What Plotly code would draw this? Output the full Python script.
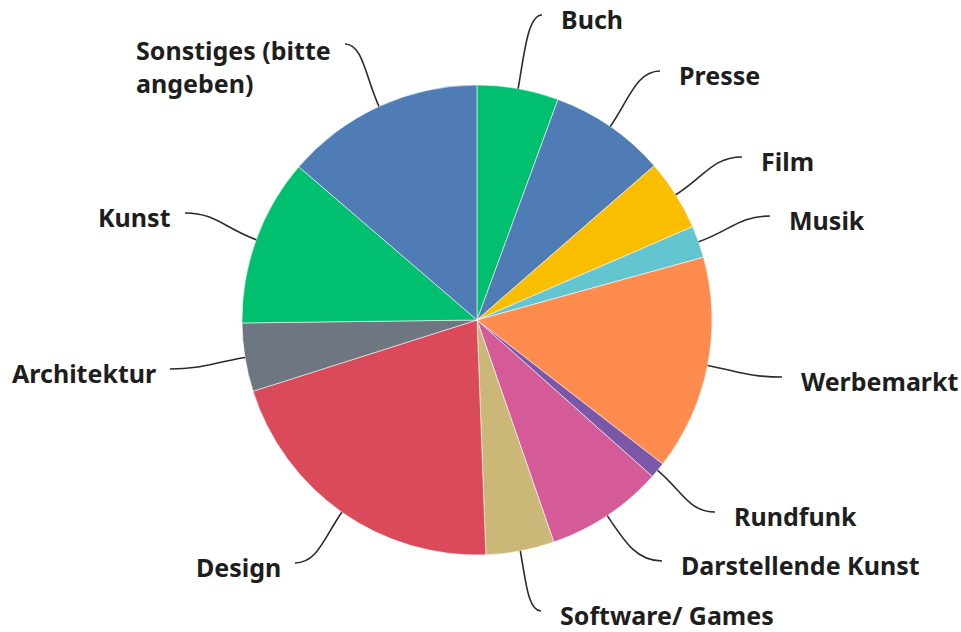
import math
import plotly.graph_objects as go

W, H = 961, 632

# Share of respondents per sector (percent), clockwise from 12 o'clock
categories = [
    "Buch", "Presse", "Film", "Musik", "Werbemarkt", "Rundfunk",
    "Darstellende Kunst", "Software/ Games", "Design", "Architektur",
    "Kunst", "Sonstiges (bitte<br>angeben)",
]
values = [5.6, 8.0, 4.9, 2.2, 14.8, 1.1, 8.1, 4.7, 20.7, 4.7, 11.5, 13.7]

colors = [
    "#00BF6F", "#507CB6", "#F9BE00", "#62C5CF", "#FF8B4F", "#7B57A8",
    "#D45A98", "#CBB878", "#DB4A5B", "#6E7781", "#00BF6F", "#507CB6",
]

# Pie placement in pixels (centre and radius)
CX, CY, R = 477, 320, 235

# Where each leader line ends (pixels) and which side its label sits on
leader_end = [
    (542, 15), (660, 71), (742, 157), (770, 216), (782, 377), (715, 512),
    (662, 561), (541, 611), (295, 563), (170, 369), (185, 213), (345, 44),
]
label_side = ["r", "r", "r", "r", "r", "r", "r", "r", "l", "l", "l", "l"]

GAP_RIGHT = 17
GAP_LEFT = 12
LABEL_DY = 4


def px(x, y):
    return x / W, 1 - y / H


fig = go.Figure()
fig.add_trace(go.Pie(
    labels=categories,
    values=values,
    sort=False,
    direction="clockwise",
    rotation=0,
    textinfo="none",
    hoverinfo="label+percent",
    marker=dict(colors=colors, line=dict(color="rgba(255,255,255,0.55)", width=1)),
    domain=dict(
        x=[(CX - R) / W, (CX + R) / W],
        y=[(H - CY - R) / H, (H - CY + R) / H],
    ),
    showlegend=False,
))

total = sum(values)
shapes = []
annotations = []
acc = 0.0
for name, v, (ex, ey), side in zip(categories, values, leader_end, label_side):
    mid = (acc + v / 2) / total * 2 * math.pi
    acc += v
    ux, uy = math.sin(mid), -math.cos(mid)
    x0, y0 = CX + R * ux, CY + R * uy
    dist = math.hypot(ex - x0, ey - y0)
    c1x, c1y = x0 + ux * dist * 0.45, y0 + uy * dist * 0.45
    sgn = 1 if side == "r" else -1
    k = 0.35 * abs(ex - x0) + 6
    c2x, c2y = ex - sgn * k, ey
    pts = [px(x0, y0), px(c1x, c1y), px(c2x, c2y), px(ex, ey)]
    path = "M {:.5f},{:.5f} C {:.5f},{:.5f} {:.5f},{:.5f} {:.5f},{:.5f}".format(
        *[c for p in pts for c in p]
    )
    shapes.append(dict(
        type="path", path=path, xref="paper", yref="paper",
        line=dict(color="#2b2b2b", width=1.6), layer="above",
    ))
    tx = ex + (GAP_RIGHT if side == "r" else -GAP_LEFT)
    ty = ey + LABEL_DY
    ax, ay = px(tx, ty)
    if "<br>" in name:
        ay = 1 - (ty + 18) / H
    annotations.append(dict(
        text=name, x=ax, y=ay, xref="paper", yref="paper",
        xanchor="left" if side == "r" else "right", yanchor="middle",
        align="left", showarrow=False,
        font=dict(family="Noto Sans", size=25, color="#1e1e1e", weight="bold"),
    ))

fig.update_layout(
    width=W, height=H,
    margin=dict(l=0, r=0, t=0, b=0),
    paper_bgcolor="white", plot_bgcolor="white",
    shapes=shapes, annotations=annotations,
)

fig.write_html("out.html")
